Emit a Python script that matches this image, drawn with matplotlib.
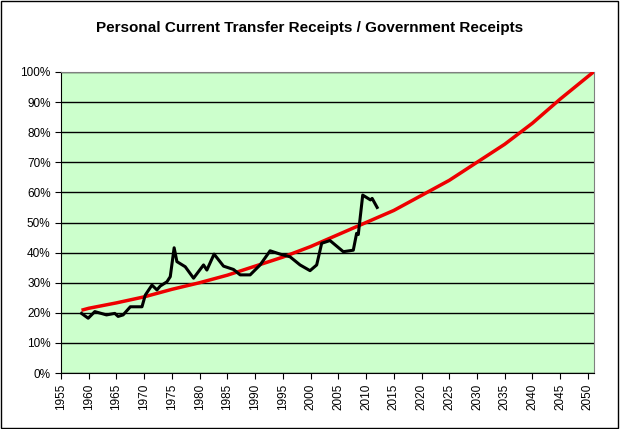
import matplotlib
matplotlib.use("Agg")
import matplotlib.pyplot as plt
from matplotlib.patches import Rectangle

actual_years = [1958.7,1959.9,1961.1,1963.2,1964.7,1965.3,1966.2,1967.5,1969.6,1970.2,1971.4,1972.3,1972.9,
                1974.1,1974.7,1975.4,1975.9,1977.4,1978.9,1980.7,1981.3,1982.6,1984.3,1986.1,1987.3,1989.1,
                1990.9,1992.7,1994.5,1996.3,1998.1,1999.9,2001.1,2002.0,2003.5,2005.9,2007.7,2008.3,2008.6,
                2009.4,2010.8,2011.1,2012.0]
actual_pct = [19.8,18.2,20.4,19.3,19.8,18.8,19.3,22.0,22.0,25.9,29.2,27.6,28.9,
              30.3,32.0,41.6,37.0,35.3,31.5,35.9,34.2,39.5,35.5,34.4,32.6,32.6,
              35.9,40.6,39.5,38.6,35.9,34.0,35.9,43.1,44.0,40.3,40.8,46.4,46.0,
              59.1,57.5,58.0,55.0]
trend_years = [1959,1960,1965,1970,1975,1980,1985,1990,1995,2000,2005,2010,2015,2020,2025,2030,2035,2040,2045,2051]
trend_pct = [21.0,21.5,23.3,25.3,27.8,30.0,32.5,35.5,38.5,42.0,46.0,50.0,54.0,59.0,64.0,70.0,76.0,83.0,91.0,100.0]
x_ticks = list(range(1955, 2051, 5))
y_ticks = list(range(0, 101, 10))

fig = plt.figure(figsize=(6.2, 4.29), dpi=100)
fig.patches.append(Rectangle((0.002, 0.002), 0.995, 0.995, transform=fig.transFigure,
                             fill=False, edgecolor="black", linewidth=1))
ax = fig.add_axes([61/620, 56/429, 533/620, 301/429])
ax.set_facecolor("#ccffcc")
for s in ax.spines.values():
    s.set_color("#808080")
ax.spines["left"].set_color("black")
ax.spines["bottom"].set_color("black")
ax.set_xlim(1955, 2051.1)
ax.set_ylim(0, 100)
ax.set_yticks(y_ticks)
ax.set_yticklabels([f"{v}%" for v in y_ticks], fontsize=8.5, family="Liberation Sans")
ax.set_xticks(x_ticks)
ax.set_xticklabels([str(v) for v in x_ticks], rotation=90, fontsize=8.5, family="Liberation Sans")
ax.tick_params(direction="out", length=4, color="black")
ax.yaxis.grid(True, color="black", linewidth=1)
ax.set_axisbelow(True)
ax.plot(trend_years, trend_pct, color="#ee0000", linewidth=2.5, zorder=3)
ax.plot(actual_years, actual_pct, color="black", linewidth=2.2, zorder=4)
fig.text(0.5, 0.935, "Personal Current Transfer Receipts / Government Receipts",
         ha="center", va="center", fontsize=11, fontweight="bold", family="Liberation Sans")
fig.savefig("out.png", dpi=100)
